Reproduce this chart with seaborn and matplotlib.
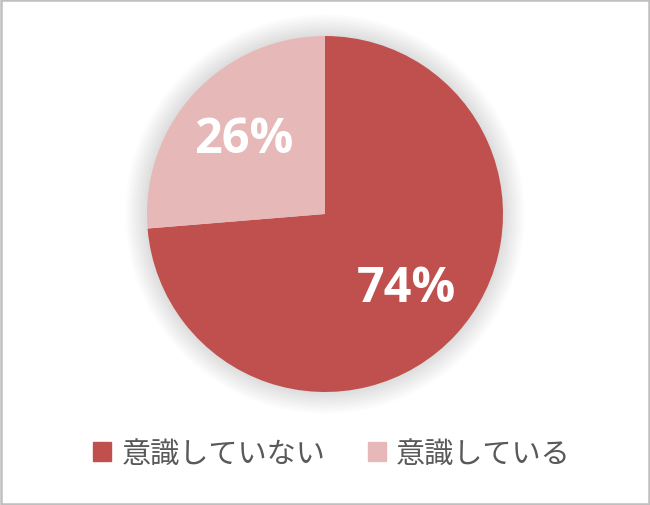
import numpy as np
import seaborn as sns
import matplotlib.pyplot as plt
from matplotlib.patches import Patch, Circle, Rectangle

labels = ["意識していない", "意識している"]
values = [73.7, 26.3]
colors = ["#C0504D", "#E6B9B8"]

sns.set_style("white")
plt.rcParams['font.family'] = ['Noto Sans CJK JP', 'DejaVu Sans']

fig = plt.figure(figsize=(6.5, 5.06), dpi=100)
W, H = 650, 506
cx, cy, r = 325, 506 - 215, 178
ax = fig.add_axes([(cx - r * 1.1) / W, (cy - r * 1.1) / H, 2.2 * r / W, 2.2 * r / H])

# soft shadow around the pie
for k in range(12):
    ax.add_patch(Circle((0, 0), 1 + k * 0.011, color="#000000", alpha=0.012, lw=0,
                        zorder=0, clip_on=False))

wedges, texts, autotexts = ax.pie(values, colors=colors, startangle=90, counterclock=False,
                                  autopct="%.0f%%", pctdistance=0.62, radius=1,
                                  wedgeprops=dict(linewidth=0))
for t in autotexts:
    t.set_color("white")
    t.set_fontfamily(["Open Sans", "DejaVu Sans"])
    t.set_fontweight("bold")
    t.set_fontsize(35)
ax.set_xlim(-1.1, 1.1)
ax.set_ylim(-1.1, 1.1)
ax.axis("off")

handles = [Patch(facecolor=c, edgecolor=c) for c in colors]
leg = fig.legend(handles, labels, loc="center", bbox_to_anchor=(332 / W, 51 / H), ncol=2,
                 frameon=False, fontsize=21, handlelength=0.62, handleheight=0.62,
                 handletextpad=0.35, columnspacing=1.45)
for t in leg.get_texts():
    t.set_color("#595959")

fig.patches.append(Rectangle((0.002, 0.002), 0.996, 0.996, transform=fig.transFigure,
                             fill=False, edgecolor="#BFBFBF", linewidth=1.8))

fig.savefig("out.png", dpi=100)
